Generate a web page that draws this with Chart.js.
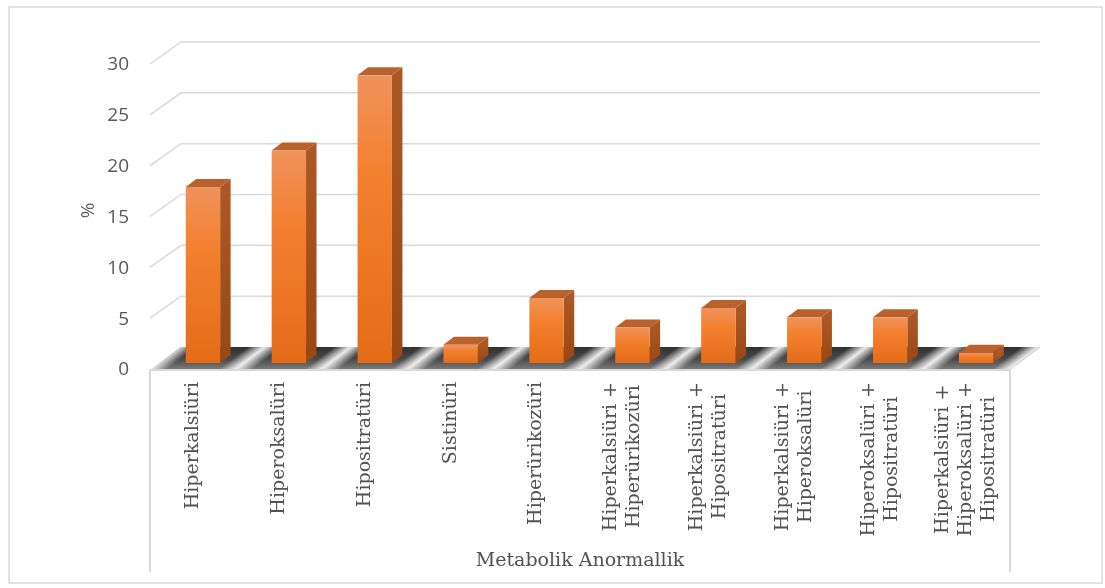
<!DOCTYPE html>
<html>
<head>
<meta charset="utf-8">
<title>Metabolik Anormallik</title>
<script src="https://cdn.jsdelivr.net/npm/chart.js@4.4.1/dist/chart.umd.min.js"></script>
<style>
  html, body { margin: 0; padding: 0; background: #ffffff; }
  #wrap { width: 1105px; height: 588px; position: relative; }
  canvas { display: block; }
</style>
</head>
<body>
<div id="wrap"><canvas id="chart" width="1105" height="588"></canvas></div>
<script>
// Category labels (each entry is a list of lines)
const categories = [
  ['Hiperkalsiüri'],
  ['Hiperoksalüri'],
  ['Hipositratüri'],
  ['Sistinüri'],
  ['Hiperürikozüri'],
  ['Hiperkalsiüri +', 'Hiperürikozüri'],
  ['Hiperkalsiüri +', 'Hipositratüri'],
  ['Hiperkalsiüri +', 'Hiperoksalüri'],
  ['Hiperoksalüri +', 'Hipositratüri'],
  ['Hiperkalsiüri +', 'Hiperoksalüri +', 'Hipositratüri']
];
// Share of patients (%)
const percentValues = [17.3, 20.9, 28.3, 1.8, 6.4, 3.5, 5.4, 4.5, 4.5, 1.0];
// Value axis ticks
const yTicks = [0, 5, 10, 15, 20, 25, 30];
const yAxisTitle = '%';
const xAxisTitle = 'Metabolik Anormallik';

// Oblique projection offsets relative to the plane the bars' front faces sit in
const FRONT = { x: -8, y: 6 };    // front edge of the floor
const BACK = { x: 21, y: -16 };   // back wall
const BAR_DEPTH = { x: 10.5, y: -8 };

const GRID_COLOR = '#d9d9d9';
const LABEL_FONT = '19px "DejaVu Serif", serif';
const LABEL_COLOR = '#525252';

function frontGradient(ctx, top, bottom) {
  const g = ctx.createLinearGradient(0, top, 0, bottom);
  g.addColorStop(0, '#f0925c');
  g.addColorStop(0.35, '#f3802f');
  g.addColorStop(1, '#e46c19');
  return g;
}

const depthPlugin = {
  id: 'depth3d',
  beforeDatasetsDraw(chart) {
    const { ctx, chartArea } = chart;
    const y = chart.scales.y;
    const L = chartArea.left, R = chartArea.right;
    const y0 = y.getPixelForValue(0);
    const floorFront = y0 + FRONT.y, floorBack = y0 + BACK.y;

    ctx.save();
    // back wall gridlines and the receding lines on the left side wall
    ctx.strokeStyle = GRID_COLOR;
    ctx.lineWidth = 1.5;
    yTicks.forEach(v => {
      if (v === 0) return;
      const py = y.getPixelForValue(v);
      ctx.beginPath();
      ctx.moveTo(L + FRONT.x - 2, py + FRONT.y);
      ctx.lineTo(L + BACK.x, py + BACK.y);
      ctx.lineTo(R + BACK.x, py + BACK.y);
      ctx.stroke();
    });

    // floor, drawn in a sheared frame so vertical edges follow the depth direction
    const k = -(BACK.x - FRONT.x) / (floorFront - floorBack);
    ctx.save();
    ctx.transform(1, 0, k, 1, -k * floorFront, 0);
    const fx0 = L + FRONT.x, fx1 = R + FRONT.x;
    const base = ctx.createLinearGradient(0, floorBack, 0, floorFront);
    base.addColorStop(0, '#303030');
    base.addColorStop(0.55, '#4a4a4a');
    base.addColorStop(1, '#7a7a7a');
    ctx.fillStyle = base;
    ctx.fillRect(fx0, floorBack, fx1 - fx0, floorFront - floorBack);
    const step = (R - L) / categories.length;
    ctx.beginPath();
    ctx.rect(fx0, floorBack, fx1 - fx0, floorFront - floorBack);
    ctx.clip();
    for (let i = 0; i <= categories.length; i++) {
      const bx = L + i * step + FRONT.x - 2;
      const g = ctx.createLinearGradient(bx - 17, 0, bx + 17, 0);
      g.addColorStop(0, 'rgba(245,245,245,0)');
      g.addColorStop(0.5, 'rgba(245,245,245,0.95)');
      g.addColorStop(1, 'rgba(245,245,245,0)');
      ctx.fillStyle = g;
      ctx.fillRect(bx - 17, floorBack, 34, floorFront - floorBack);
    }
    ctx.restore();

    // bar side and top faces
    const meta = chart.getDatasetMeta(0);
    meta.data.forEach(bar => {
      const { x, y: top, base: bottom, width } = bar.getProps(['x', 'y', 'base', 'width'], true);
      const l = x - width / 2, r = x + width / 2;
      const side = ctx.createLinearGradient(0, top, 0, bottom);
      side.addColorStop(0, '#ac5824');
      side.addColorStop(1, '#994813');
      ctx.fillStyle = side;
      ctx.beginPath();
      ctx.moveTo(r, top);
      ctx.lineTo(r + BAR_DEPTH.x, top + BAR_DEPTH.y);
      ctx.lineTo(r + BAR_DEPTH.x, bottom + BAR_DEPTH.y);
      ctx.lineTo(r, bottom);
      ctx.closePath();
      ctx.fill();
      ctx.fillStyle = '#b9622d';
      ctx.beginPath();
      ctx.moveTo(l, top);
      ctx.lineTo(r, top);
      ctx.lineTo(r + BAR_DEPTH.x, top + BAR_DEPTH.y);
      ctx.lineTo(l + BAR_DEPTH.x, top + BAR_DEPTH.y);
      ctx.closePath();
      ctx.fill();
    });
    ctx.restore();
  },
  afterDraw(chart) {
    const { ctx, chartArea } = chart;
    const x = chart.scales.x;
    const y0 = chart.scales.y.getPixelForValue(0);
    const L = chartArea.left, R = chartArea.right;
    const floorFront = y0 + FRONT.y;

    ctx.save();
    // floor front edge and the category label box
    ctx.strokeStyle = GRID_COLOR;
    ctx.lineWidth = 2;
    ctx.beginPath();
    ctx.moveTo(L + FRONT.x - 2, floorFront + 1);
    ctx.lineTo(R + FRONT.x, floorFront + 1);
    ctx.moveTo(L + FRONT.x - 2, floorFront);
    ctx.lineTo(L + FRONT.x - 2, 572);
    ctx.moveTo(R + FRONT.x - 1, floorFront);
    ctx.lineTo(R + FRONT.x - 1, 572);
    ctx.stroke();

    // rotated category labels, lines centred within each block
    ctx.font = LABEL_FONT;
    ctx.fillStyle = LABEL_COLOR;
    ctx.textAlign = 'center';
    ctx.textBaseline = 'middle';
    const lineH = 23;
    const topY = floorFront + 13;
    categories.forEach((lines, i) => {
      const cx = x.getPixelForValue(i) - 10;
      const w = Math.max(...lines.map(t => ctx.measureText(t).width));
      lines.forEach((t, j) => {
        ctx.save();
        ctx.translate(cx + (j - (lines.length - 1) / 2) * lineH, topY + w / 2);
        ctx.rotate(-Math.PI / 2);
        ctx.fillText(t, 0, 0);
        ctx.restore();
      });
    });

    // category axis title
    ctx.fillText(xAxisTitle, 580, 561);

    // outer chart border
    ctx.strokeStyle = GRID_COLOR;
    ctx.lineWidth = 1.5;
    ctx.strokeRect(9, 7, 1093, 576);
    ctx.restore();
  }
};

new Chart(document.getElementById('chart'), {
  type: 'bar',
  data: {
    labels: categories,
    datasets: [{
      data: percentValues,
      backgroundColor: (c) => {
        const chart = c.chart;
        if (!chart.chartArea || c.raw === undefined) return '#ed7d31';
        const ys = chart.scales.y;
        return frontGradient(chart.ctx, ys.getPixelForValue(c.raw), ys.getPixelForValue(0));
      },
      borderWidth: 0,
      barPercentage: 0.40,
      categoryPercentage: 1.0
    }]
  },
  options: {
    responsive: false,
    animation: false,
    devicePixelRatio: 1,
    layout: { padding: { left: 70, right: 86, top: 58, bottom: 225 } },
    plugins: {
      legend: { display: false },
      tooltip: { enabled: false },
      title: { display: false }
    },
    scales: {
      x: { display: false, offset: true },
      y: {
        min: 0,
        max: 30,
        afterBuildTicks: (s) => { s.ticks = yTicks.map(v => ({ value: v })); },
        afterFit: (s) => { s.width = 90; },
        grid: { display: false, drawTicks: false },
        border: { display: false },
        ticks: {
          padding: 31,
          labelOffset: 7,
          color: '#595959',
          font: { family: '"Open Sans", sans-serif', size: 19 }
        },
        title: {
          display: true,
          text: yAxisTitle,
          color: '#595959',
          padding: { top: 7, bottom: 0 },
          font: { family: '"Open Sans", sans-serif', size: 19 }
        }
      }
    }
  },
  plugins: [depthPlugin]
});
</script>
</body>
</html>
